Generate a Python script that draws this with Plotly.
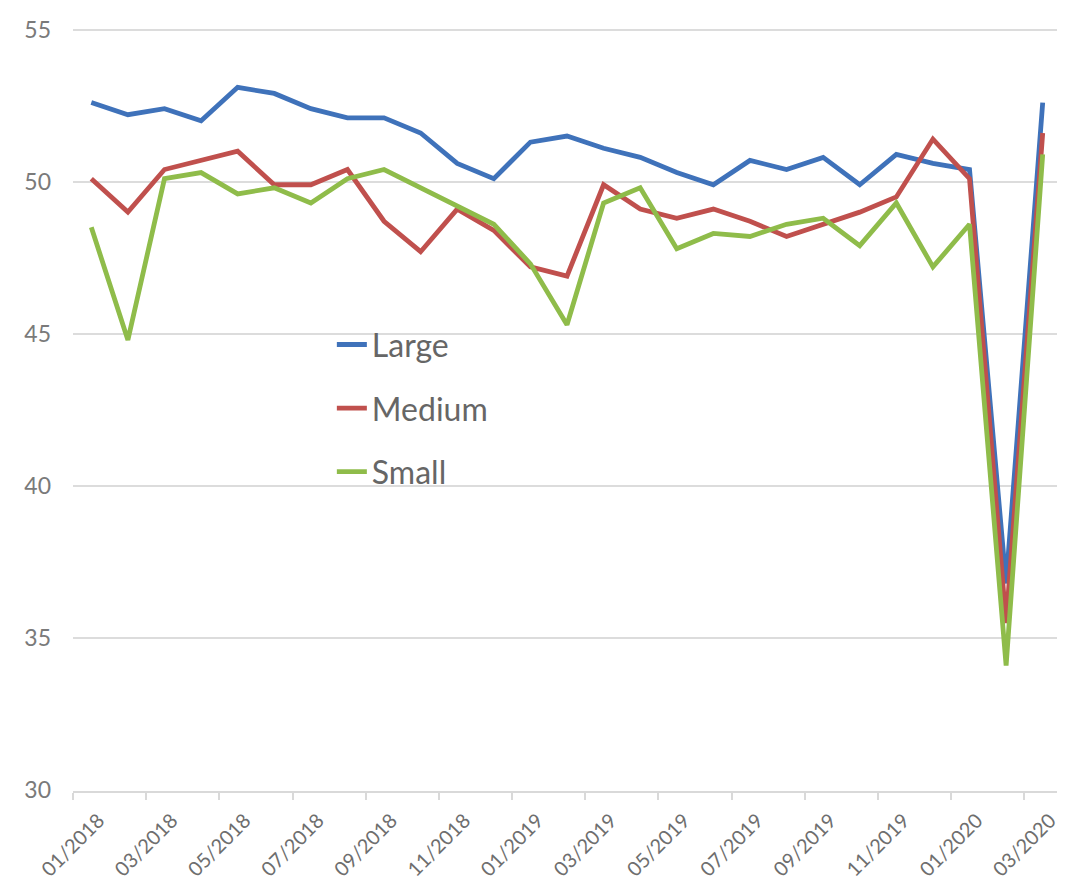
import plotly.graph_objects as go

months = ["01/2018", "02/2018", "03/2018", "04/2018", "05/2018", "06/2018", "07/2018",
          "08/2018", "09/2018", "10/2018", "11/2018", "12/2018", "01/2019", "02/2019",
          "03/2019", "04/2019", "05/2019", "06/2019", "07/2019", "08/2019", "09/2019",
          "10/2019", "11/2019", "12/2019", "01/2020", "02/2020", "03/2020"]

large = [52.6, 52.2, 52.4, 52.0, 53.1, 52.9, 52.4, 52.1, 52.1, 51.6, 50.6, 50.1, 51.3, 51.5,
         51.1, 50.8, 50.3, 49.9, 50.7, 50.4, 50.8, 49.9, 50.9, 50.6, 50.4, 36.8, 52.6]
medium = [50.1, 49.0, 50.4, 50.7, 51.0, 49.9, 49.9, 50.4, 48.7, 47.7, 49.1, 48.4, 47.2, 46.9,
          49.9, 49.1, 48.8, 49.1, 48.7, 48.2, 48.6, 49.0, 49.5, 51.4, 50.1, 35.5, 51.6]
small = [48.5, 44.8, 50.1, 50.3, 49.6, 49.8, 49.3, 50.1, 50.4, 49.8, 49.2, 48.6, 47.3, 45.3,
         49.3, 49.8, 47.8, 48.3, 48.2, 48.6, 48.8, 47.9, 49.3, 47.2, 48.6, 34.1, 50.9]

y_ticks = [30, 35, 40, 45, 50, 55]

x = list(range(len(months)))
label_idx = x[::2]
label_shift = 0.2  # labels sit slightly right of the category centre, as in the original

series = [("Large", large, "#3F72BA"), ("Medium", medium, "#C0504D"), ("Small", small, "#8FBC4A")]

fig = go.Figure()
for i, (name, vals, col) in enumerate(series):
    fig.add_trace(go.Scatter(x=x, y=vals, name=name, mode="lines",
                             line=dict(color=col, width=4.8), legendgroup=name))

fig.update_layout(
    width=1065, height=887,
    margin=dict(l=65, r=12, t=20, b=104),
    paper_bgcolor="white", plot_bgcolor="white",
    font=dict(family="Lato, Open Sans, sans-serif", color="#7a7a7a"),
    showlegend=True,
    legend=dict(x=0.262, y=0.621, xanchor="left", yanchor="top",
                bgcolor="rgba(0,0,0,0)", traceorder="grouped", tracegroupgap=19,
                font=dict(size=32, color="#666666")),
    xaxis=dict(range=[-0.5, len(months) - 0.5], tickmode="array",
               tickvals=[i + label_shift for i in label_idx],
               ticktext=[months[i] for i in label_idx],
               tickangle=-45, ticks="", showgrid=False, zeroline=False,
               showline=True, linecolor="#d9d9d9", linewidth=2,
               ticklabelstandoff=8, automargin=False,
               tickfont=dict(size=20, color="#6e6e6e"),
               minor=dict(tick0=-0.5, dtick=2, ticks="outside", ticklen=7,
                          tickwidth=2, tickcolor="#d9d9d9", showgrid=False)),
    yaxis=dict(range=[29.98, 55.05], tickmode="array", tickvals=y_ticks,
               showgrid=True, gridcolor="#dcdcdc", gridwidth=2, zeroline=False,
               showline=False, ticks="", ticklabelstandoff=21, automargin=False,
               tickfont=dict(size=23, color="#7a7a7a")),
)

fig.write_html("out.html")
